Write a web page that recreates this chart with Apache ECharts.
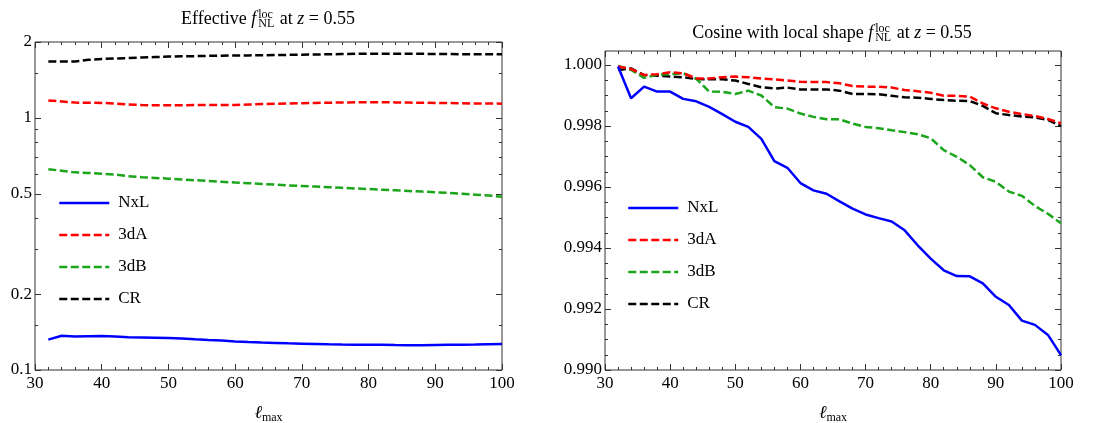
<!DOCTYPE html>
<html>
<head>
<meta charset="utf-8">
<script src="https://cdn.jsdelivr.net/npm/echarts@6/dist/echarts.min.js"></script>
<style>
  html, body { margin: 0; padding: 0; background: #fff; }
  #chart { width: 1113px; height: 423px; }
</style>
</head>
<body>
<div id="chart"></div>
<script>
// l_max sample points
const lmax = [32, 34, 36, 38, 40, 42, 44, 46, 48, 50, 52, 54, 56, 58, 60, 62, 64, 66,
  68, 70, 72, 74, 76, 78, 80, 82, 84, 86, 88, 90, 92, 94, 96, 98, 100]

// left panel: effective fNL (log scale)
const nxlEff = [0.132, 0.1368, 0.1358, 0.1362, 0.1364, 0.1358, 0.1348, 0.1345, 0.1342, 0.1338,
  0.1332, 0.1323, 0.1315, 0.1308, 0.1298, 0.129, 0.1285, 0.1281, 0.1276, 0.1272, 0.1268, 0.1264,
  0.1261, 0.126, 0.126, 0.1259, 0.1256, 0.1254, 0.1253, 0.1256, 0.1258, 0.126, 0.1262, 0.1265, 0.1268]
const a3dEff = [1.172, 1.162, 1.15, 1.148, 1.147, 1.14, 1.13, 1.124, 1.122, 1.122, 1.123, 1.124,
  1.124, 1.125, 1.126, 1.13, 1.134, 1.137, 1.14, 1.143, 1.146, 1.149, 1.151, 1.153, 1.155, 1.154,
  1.152, 1.15, 1.148, 1.147, 1.145, 1.143, 1.141, 1.14, 1.139]
const b3dEff = [0.626, 0.617, 0.608, 0.605, 0.601, 0.596, 0.587, 0.582, 0.578, 0.574, 0.57, 0.566,
  0.562, 0.558, 0.554, 0.551, 0.547, 0.544, 0.54, 0.537, 0.534, 0.531, 0.528, 0.525, 0.522, 0.519,
  0.516, 0.513, 0.51, 0.507, 0.504, 0.5, 0.496, 0.492, 0.487]
const crEff = [1.673, 1.673, 1.675, 1.7, 1.712, 1.72, 1.727, 1.735, 1.743, 1.75, 1.755, 1.758,
  1.762, 1.765, 1.767, 1.77, 1.772, 1.775, 1.778, 1.782, 1.785, 1.788, 1.792, 1.795, 1.798, 1.798,
  1.797, 1.796, 1.795, 1.793, 1.791, 1.79, 1.789, 1.788, 1.787]

// right panel: cosine with local shape
const nxlCos = [0.99995, 0.99891, 0.99929, 0.99913, 0.99913, 0.99889, 0.99881, 0.99863, 0.99839,
  0.99814, 0.99797, 0.99758, 0.99685, 0.99663, 0.99613, 0.99589, 0.99578, 0.99553, 0.99529,
  0.9951, 0.99498, 0.99487, 0.99458, 0.99409, 0.99365, 0.99327, 0.99308, 0.99307, 0.99284,
  0.9924, 0.99213, 0.99162, 0.99148, 0.99115, 0.99049]
const a3dCos = [0.99995, 0.99987, 0.99967, 0.9997, 0.99976, 0.99973, 0.99956, 0.99956, 0.9996,
  0.99962, 0.9996, 0.99956, 0.99953, 0.99949, 0.99945, 0.99944, 0.99944, 0.9994, 0.99931, 0.99929,
  0.99929, 0.99926, 0.99918, 0.99914, 0.99909, 0.99899, 0.99899, 0.99896, 0.99874, 0.99858,
  0.99847, 0.99839, 0.99833, 0.99823, 0.99809]
const b3dCos = [0.99997, 0.99984, 0.99958, 0.99968, 0.9997, 0.99973, 0.99955, 0.99913, 0.99912,
  0.99905, 0.99916, 0.999, 0.99862, 0.99857, 0.99841, 0.9983, 0.99822, 0.99822, 0.99808, 0.99797,
  0.99793, 0.99786, 0.9978, 0.99773, 0.9976, 0.99721, 0.99699, 0.99672, 0.99632, 0.99617, 0.99585,
  0.99571, 0.99538, 0.99512, 0.99481]
const crCos = [0.99984, 0.99989, 0.99967, 0.99965, 0.99962, 0.9996, 0.99954, 0.99953, 0.99953,
  0.99949, 0.99938, 0.99927, 0.99923, 0.99926, 0.9992, 0.9992, 0.9992, 0.99916, 0.99905, 0.99905,
  0.99904, 0.99899, 0.99894, 0.99893, 0.99889, 0.99885, 0.99883, 0.99882, 0.99866, 0.99842,
  0.99836, 0.99831, 0.99828, 0.9982, 0.998]

// tick positions
const effMajor = [0.1, 0.2, 0.5, 1, 2]
const effMinor = [0.15, 0.3, 0.4, 0.6, 0.7, 0.8, 0.9, 1.5]
const cosMajor = [0.990, 0.992, 0.994, 0.996, 0.998, 1.000]
const cosMinor = [0.9905, 0.991, 0.9915, 0.9925, 0.993, 0.9935, 0.9945, 0.995, 0.9955,
  0.9965, 0.997, 0.9975, 0.9985, 0.999, 0.9995]

const FONT = 'Liberation Serif'
const FRAME = '#333'
const DASH = [8, 3.5]
const seriesInfo = [
  { name: 'NxL', color: '#0000ff', type: 'solid' },
  { name: '3dA', color: '#ff0000', type: DASH },
  { name: '3dB', color: '#1aa51a', type: DASH },
  { name: 'CR', color: '#000000', type: DASH },
]

const myChart = echarts.init(document.getElementById('chart'))

function pairs(ys) {
  return lmax.map((x, i) => [x, ys[i]])
}

function xAxes(gridIndex) {
  const base = {
    gridIndex: gridIndex,
    type: 'value',
    min: 30,
    max: 100,
    interval: 10,
    axisLine: { show: false },
    axisTick: { inside: true, length: 6, lineStyle: { color: FRAME } },
    minorTick: { show: true, splitNumber: 5, length: 3, lineStyle: { color: FRAME } },
    splitLine: { show: false },
  }
  return [
    Object.assign({}, base, {
      position: 'bottom',
      axisLabel: { fontFamily: FONT, fontSize: 17, color: '#000', margin: 5 },
      name: '{l|ℓ}{s|max}',
      nameLocation: 'middle',
      nameGap: 32,
      nameTextStyle: {
        rich: {
          l: { fontFamily: FONT, fontSize: 18, fontStyle: 'italic', color: '#000' },
          s: { fontFamily: FONT, fontSize: 12, color: '#000', padding: [10, 0, 0, 0] },
        },
      },
    }),
    Object.assign({}, base, { position: 'top', axisLabel: { show: false } }),
  ]
}

function yAxes(gridIndex, scale, major, minor, fmt) {
  const base = Object.assign({ gridIndex: gridIndex, axisLine: { show: false }, splitLine: { show: false } }, scale)
  const list = []
  ;['left', 'right'].forEach((pos) => {
    list.push(Object.assign({}, base, {
      position: pos,
      axisTick: { inside: true, length: 6, customValues: major, lineStyle: { color: FRAME } },
      axisLabel: pos === 'left'
        ? { customValues: major, formatter: fmt, fontFamily: FONT, fontSize: 17, color: '#000', margin: 3 }
        : { show: false },
    }))
    list.push(Object.assign({}, base, {
      position: pos,
      axisTick: { inside: true, length: 3, customValues: minor, lineStyle: { color: FRAME } },
      axisLabel: { show: false },
    }))
  })
  return list
}

// title like "Effective f_NL^loc at z = 0.55", pieces laid out side by side
const measureCtx = document.createElement('canvas').getContext('2d')
function textWidth(txt, size, italic) {
  measureCtx.font = (italic ? 'italic ' : '') + size + 'px "' + FONT + '"'
  return measureCtx.measureText(txt).width
}

function titleGroup(cx, cy, pre) {
  const big = 18
  const small = 12
  const scriptW = Math.max(textWidth('NL', small), textWidth('loc', small)) + 1
  const parts = [
    { t: pre, w: textWidth(pre, big) },
    { t: 'f', w: textWidth('f', big, true) + 2, italic: true },
    { script: true, w: scriptW },
    { t: ' at ', w: textWidth(' at ', big) },
    { t: 'z', w: textWidth('z', big, true), italic: true },
    { t: ' = 0.55', w: textWidth(' = 0.55', big) },
  ]
  const total = parts.reduce((s, p) => s + p.w, 0)
  let x = cx - total / 2
  const children = []
  const mk = (t, px, py, size, italic) => ({
    type: 'text',
    x: px,
    y: py,
    style: {
      text: t,
      fontFamily: FONT,
      fontSize: size,
      fontStyle: italic ? 'italic' : 'normal',
      fill: '#000',
      align: 'left',
      verticalAlign: 'middle',
    },
  })
  parts.forEach((p) => {
    if (p.script) {
      children.push(mk('loc', x, cy - 4, small))
      children.push(mk('NL', x, cy + 5, small))
    } else {
      children.push(mk(p.t, x, cy, big, p.italic))
    }
    x += p.w
  })
  return { type: 'group', children: children }
}

const series = []
;[[nxlEff, a3dEff, b3dEff, crEff], [nxlCos, a3dCos, b3dCos, crCos]].forEach((group, g) => {
  group.forEach((ys, k) => {
    const s = seriesInfo[k]
    series.push({
      name: s.name,
      type: 'line',
      xAxisIndex: g * 2,
      yAxisIndex: g * 4,
      data: pairs(ys),
      symbol: 'none',
      showSymbol: false,
      z: 10 - k,
      lineStyle: { color: s.color, width: 2.5, type: s.type },
      itemStyle: { color: s.color },
    })
  })
})

function legend(left, top) {
  return {
    orient: 'vertical',
    left: left,
    top: top,
    padding: 0,
    itemWidth: 50,
    itemHeight: 20,
    itemGap: 12,
    itemStyle: { opacity: 0 },
    lineStyle: { width: 2.5 },
    data: seriesInfo.map((s) => s.name),
    textStyle: { fontFamily: FONT, fontSize: 17, color: '#000', lineHeight: 20, padding: [0, 0, 0, 4] },
  }
}

const option = {
  animation: false,
  backgroundColor: '#fff',
  grid: [
    { left: 35, right: 611, top: 42, bottom: 53, show: true, borderColor: FRAME, borderWidth: 1, outerBoundsMode: 'none' },
    { left: 605, right: 52, top: 51, bottom: 53, show: true, borderColor: FRAME, borderWidth: 1, outerBoundsMode: 'none' },
  ],
  legend: [legend(58, 193), legend(627, 198)],
  xAxis: xAxes(0).concat(xAxes(1)),
  yAxis: yAxes(0, { type: 'log', logBase: 10, min: 0.1, max: 2 }, effMajor, effMinor, (v) => String(+v))
    .concat(yAxes(1, { type: 'value', min: 0.990, max: 1.00046 }, cosMajor, cosMinor, (v) => (+v).toFixed(3))),
  graphic: [
    titleGroup(268, 19, 'Effective '),
    titleGroup(832, 33, 'Cosine with local shape '),
  ],
  series: series,
}

myChart.setOption(option)
</script>
</body>
</html>
